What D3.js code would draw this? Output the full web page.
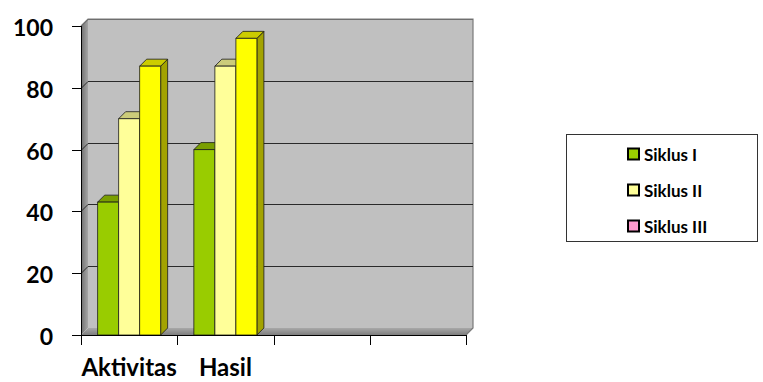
<!DOCTYPE html>
<html>
<head>
<meta charset="utf-8">
<script src="https://cdn.jsdelivr.net/npm/d3@7"></script>
<style>
  html, body { margin: 0; padding: 0; background: #fff; }
  svg { display: block; }
  text { font-family: Lato, "Open Sans", sans-serif; font-weight: bold; fill: #000; }
</style>
</head>
<body>
<svg id="chart" width="763" height="382"></svg>
<script>
// Categories (two filled, two empty slots on the axis)
const categories = ["Aktivitas", "Hasil", "", ""];
const seriesNames = ["Siklus I", "Siklus II", "Siklus III"];
const siklus1 = [43, 60, null, null];
const siklus2 = [70, 87, null, null];
const siklus3 = [87, 96, null, null];
const yTicks = [0, 20, 40, 60, 80, 100];

// Bar face colours per series and legend swatch colours
const barFront = ["#99CC00", "#FFFF99", "#FFFF00"];
const barTop = ["#7A9F00", "#CCCC7A", "#CCCC00"];
const barSide = ["#6B8E00", "#B3B36B", "#A3A300"];
const legendSwatch = ["#99CC00", "#FFFF99", "#FF99CC"];

const seriesValues = [siklus1, siklus2, siklus3];

const svg = d3.select("#chart");
const depth = 7;
const plot = { left: 81, right: 466, top: 26, bottom: 335 };

const y = d3.scaleLinear().domain([0, 100]).range([plot.bottom, plot.top]);
const x0 = d3.scaleBand()
  .domain(d3.range(categories.length))
  .range([plot.left, plot.right])
  .paddingInner(0).paddingOuter(0);
const x1 = d3.scaleBand()
  .domain(d3.range(seriesNames.length))
  .range([0, x0.bandwidth()])
  .paddingInner(0).paddingOuter(0.79);

// Gradients for the walls
const defs = svg.append("defs");
const sideGrad = defs.append("linearGradient").attr("id", "sideGrad")
  .attr("x1", 0).attr("x2", 1).attr("y1", 0).attr("y2", 0);
sideGrad.append("stop").attr("offset", 0).attr("stop-color", "#6E6E6E");
sideGrad.append("stop").attr("offset", 1).attr("stop-color", "#A6A6A6");
const floorGrad = defs.append("linearGradient").attr("id", "floorGrad")
  .attr("x1", 0).attr("x2", 0).attr("y1", 0).attr("y2", 1);
floorGrad.append("stop").attr("offset", 0).attr("stop-color", "#A8A8A8");
floorGrad.append("stop").attr("offset", 1).attr("stop-color", "#7E7E7E");

// Back wall
svg.append("rect")
  .attr("x", plot.left + depth).attr("y", plot.top - depth)
  .attr("width", plot.right - plot.left).attr("height", plot.bottom - plot.top)
  .attr("fill", "#C0C0C0");

// Side wall
svg.append("path")
  .attr("d", `M${plot.left},${plot.top} L${plot.left + depth},${plot.top - depth} L${plot.left + depth},${plot.bottom - depth} L${plot.left},${plot.bottom} Z`)
  .attr("fill", "url(#sideGrad)");

// Floor
svg.append("path")
  .attr("d", `M${plot.left},${plot.bottom} L${plot.left + depth},${plot.bottom - depth} L${plot.right + depth},${plot.bottom - depth} L${plot.right},${plot.bottom} Z`)
  .attr("fill", "url(#floorGrad)");

// Wall borders (top and right edges)
svg.append("path")
  .attr("d", `M${plot.left},${plot.top} L${plot.left + depth},${plot.top - depth} L${plot.right + depth},${plot.top - depth} L${plot.right + depth},${plot.bottom - depth} L${plot.right},${plot.bottom}`)
  .attr("fill", "none").attr("stroke", "#7A7A7A").attr("stroke-width", 1.2);

// Gridlines across the side wall and back wall
const grid = svg.append("g");
yTicks.filter(t => t > 0).forEach(t => {
  const yy = Math.round(y(t)) + 0.5;
  grid.append("path")
    .attr("d", `M${plot.left},${yy} L${plot.left + depth},${yy - depth} L${plot.right + depth},${yy - depth}`)
    .attr("fill", "none")
    .attr("stroke", t === 100 ? "#6E6E6E" : "#2A2A2A")
    .attr("stroke-width", 1);
});

// Bars
const barsG = svg.append("g");
categories.forEach((cat, ci) => {
  seriesValues.forEach((vals, si) => {
    const v = vals[ci];
    if (v == null) return;
    const bx = x0(ci) + x1(si);
    const bw = x1.bandwidth();
    const by = y(v);
    const bb = y(0);
    const g = barsG.append("g").attr("stroke", "#1A1A1A").attr("stroke-width", 0.8).attr("stroke-linejoin", "round");
    // side face
    g.append("path")
      .attr("d", `M${bx + bw},${by} L${bx + bw + depth},${by - depth} L${bx + bw + depth},${bb - depth} L${bx + bw},${bb} Z`)
      .attr("fill", barSide[si]);
    // top face
    g.append("path")
      .attr("d", `M${bx},${by} L${bx + depth},${by - depth} L${bx + bw + depth},${by - depth} L${bx + bw},${by} Z`)
      .attr("fill", barTop[si]);
    // front face
    g.append("rect")
      .attr("x", bx).attr("y", by).attr("width", bw).attr("height", bb - by)
      .attr("fill", barFront[si]);
  });
});

// Value axis
const yAxis = svg.append("g");
yAxis.append("line")
  .attr("x1", plot.left + 0.5).attr("x2", plot.left + 0.5)
  .attr("y1", plot.top).attr("y2", plot.bottom)
  .attr("stroke", "#000");
yTicks.forEach(t => {
  const yy = Math.round(y(t)) + 0.5;
  yAxis.append("line")
    .attr("x1", plot.left - 9).attr("x2", plot.left)
    .attr("y1", yy).attr("y2", yy).attr("stroke", "#000");
  yAxis.append("text")
    .attr("x", 53).attr("y", yy)
    .attr("text-anchor", "end").attr("dominant-baseline", "central")
    .attr("font-size", 23)
    .text(t);
});

// Category axis
const xAxis = svg.append("g");
xAxis.append("line")
  .attr("x1", plot.left - 9).attr("x2", plot.right)
  .attr("y1", plot.bottom + 0.5).attr("y2", plot.bottom + 0.5)
  .attr("stroke", "#000");
d3.range(categories.length + 1).forEach(i => {
  const xx = Math.round(i < categories.length ? x0(i) : plot.right) + 0.5;
  xAxis.append("line")
    .attr("x1", xx).attr("x2", xx)
    .attr("y1", plot.bottom).attr("y2", plot.bottom + 10)
    .attr("stroke", "#000");
});
categories.forEach((cat, ci) => {
  if (!cat) return;
  xAxis.append("text")
    .attr("x", x0(ci) + x0.bandwidth() / 2)
    .attr("y", 376)
    .attr("text-anchor", "middle")
    .attr("font-size", 24)
    .text(cat);
});

// Legend
const legend = svg.append("g");
legend.append("rect")
  .attr("x", 566.5).attr("y", 134.5).attr("width", 191).attr("height", 107)
  .attr("fill", "#fff").attr("stroke", "#333").attr("stroke-width", 1);
seriesNames.forEach((name, i) => {
  const cy = 154 + i * 36;
  legend.append("rect")
    .attr("x", 628).attr("y", cy - 5.5).attr("width", 11).attr("height", 11)
    .attr("fill", legendSwatch[i]).attr("stroke", "#000").attr("stroke-width", 2);
  legend.append("text")
    .attr("x", 644).attr("y", cy)
    .attr("dominant-baseline", "central")
    .attr("font-size", 17)
    .text(name);
});
</script>
</body>
</html>
